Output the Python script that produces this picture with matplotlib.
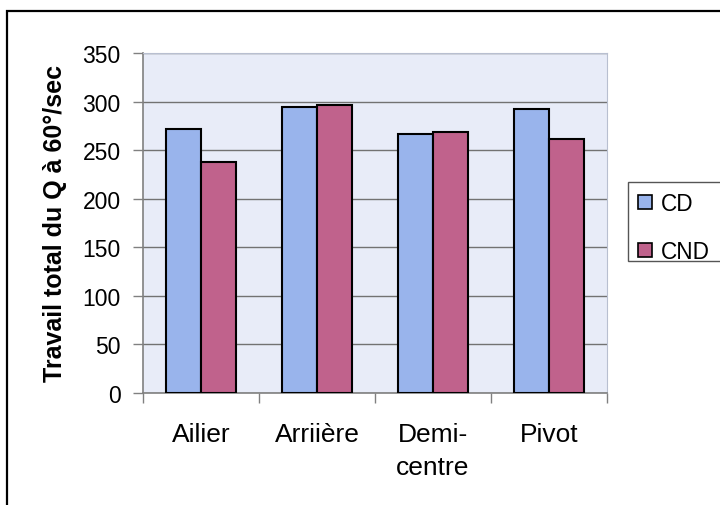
import matplotlib
matplotlib.use("Agg")
import matplotlib.pyplot as plt
from matplotlib.patches import Rectangle, Patch
import numpy as np

plt.rcParams['font.family'] = ['Liberation Sans', 'DejaVu Sans']

categories = ["Ailier", "Arriière", "Demi-\ncentre", "Pivot"]
series_names = ["CD", "CND"]
cd_values = [272, 294, 267, 292]
cnd_values = [238, 296, 269, 261]
y_ticks = [0, 50, 100, 150, 200, 250, 300, 350]

blue = "#99B4EC"
pink = "#C0628C"

fig = plt.figure(figsize=(7.2, 5.06), dpi=100)
fig.patch.set_facecolor("white")

# outer chart frame (runs off the right and bottom edges)
fig.add_artist(Rectangle((7 / 720, -0.05), 1.1, 1 - 12 / 506 + 0.05,
                         transform=fig.transFigure, fill=False,
                         edgecolor="black", linewidth=1.6))

ax = fig.add_axes([143 / 720, 1 - 394 / 506, 464 / 720, 340 / 506])
ax.set_facecolor("#E8ECF8")

x = np.arange(len(categories))
w = 0.3
ax.bar(x - w / 2, cd_values, width=w, color=blue, edgecolor="black",
       linewidth=1.5, label=series_names[0], zorder=3)
ax.bar(x + w / 2, cnd_values, width=w, color=pink, edgecolor="black",
       linewidth=1.5, label=series_names[1], zorder=3)

ax.set_xlim(-0.5, len(categories) - 0.5)
ax.set_ylim(0, 350)
ax.set_yticks(y_ticks)
ax.set_yticklabels([str(v) for v in y_ticks], fontsize=16.5)
ax.yaxis.grid(True, color="#727272", linewidth=1.0, zorder=0)
ax.set_axisbelow(True)

# category labels centred, tick marks at the category boundaries
ax.set_xticks(x)
ax.set_xticklabels(categories, fontsize=19, linespacing=1.45)
ax.tick_params(axis="x", length=0, pad=21)
ax.set_xticks(np.arange(-0.5, len(categories)), minor=True)
ax.tick_params(axis="x", which="minor", length=7, color="#808080", width=1)
ax.tick_params(axis="y", length=7, color="#808080", width=1, pad=9)

for side in ["left", "bottom"]:
    ax.spines[side].set_color("#808080")
    ax.spines[side].set_linewidth(1.2)
for side in ["top", "right"]:
    ax.spines[side].set_color("#B8BFD0")
    ax.spines[side].set_linewidth(0.8)

ax.set_ylabel("Travail total du Q à 60°/sec", fontsize=18,
              fontweight="bold", labelpad=11)

# legend box (its right side runs past the figure edge)
fig.add_artist(Rectangle((628 / 720, 1 - 262 / 506), 0.3, 79 / 506,
                         transform=fig.transFigure, facecolor="white",
                         edgecolor="#555555", linewidth=1.0))
handles = [Patch(facecolor=blue, edgecolor="black", linewidth=1.2),
           Patch(facecolor=pink, edgecolor="black", linewidth=1.2)]
leg = fig.legend(handles, series_names, loc="center left",
                 bbox_to_anchor=(638 / 720, 1 - 228.5 / 506),
                 fontsize=16.3, frameon=False,
                 handlelength=0.6, handleheight=0.6, handletextpad=0.4,
                 borderpad=0, labelspacing=1.1, borderaxespad=0)

fig.savefig("out.png", dpi=100)
